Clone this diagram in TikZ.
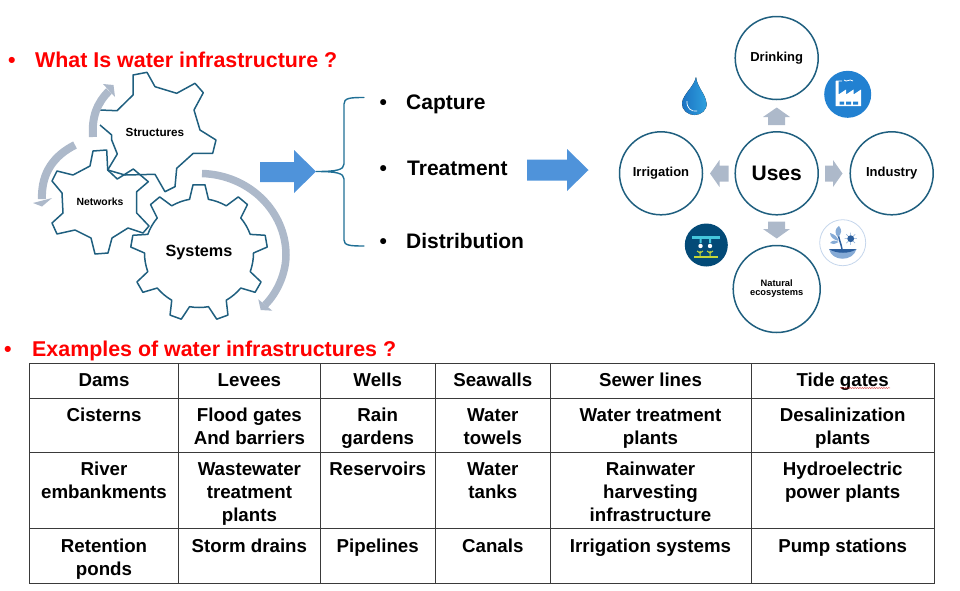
\documentclass[tikz,border=0pt]{standalone}
\usepackage{fontspec}
\setmainfont{Liberation Sans}
\usetikzlibrary{decorations.pathmorphing}
\definecolor{gearblue}{HTML}{1F5F7F}
\definecolor{bracecol}{HTML}{1F6F95}
\definecolor{greyarrow}{HTML}{ADB9CA}
\definecolor{blockblue}{HTML}{4F93DA}
\definecolor{redtitle}{HTML}{FF0000}
\definecolor{tabline}{HTML}{3A3A3A}
\definecolor{factoryblue}{HTML}{2281D1}
\definecolor{dropdark}{HTML}{1B72C2}
\definecolor{droplight}{HTML}{2FA2DF}
\definecolor{sprinkbg}{HTML}{034A77}
\definecolor{sprinkbar}{HTML}{45C6DC}
\definecolor{sprinkleaf}{HTML}{C4D63A}
\definecolor{natdark}{HTML}{2C5F9E}
\definecolor{natmid}{HTML}{86ABD6}
\definecolor{natlight}{HTML}{C5D6EC}
\newcommand{\fs}[2]{\fontsize{#1}{#2}\selectfont\bfseries}
% gear: cx cy n rot tip root halfTip halfBase
\newcommand{\mygear}[8]{%
  \begin{scope}[shift={(#1,#2)}]
  \draw[gearline,fill=white] (#4-#8:#6pt)
  \foreach \i [evaluate=\i as \aa using #4+(\i-1)*360/#3,
               evaluate=\i as \stp using 360/#3] in {1,...,#3}{
    -- (\aa-#8:#6pt) -- (\aa-#7:#5pt) -- (\aa+#7:#5pt) -- (\aa+#8:#6pt)
    -- (\aa+0.25*\stp+0.5*#8:#6pt)
    -- (\aa+0.5*\stp:#6pt)
    -- (\aa+0.75*\stp-0.5*#8:#6pt)
  } -- cycle;
  \end{scope}}
\tikzset{
  gearline/.style={draw=gearblue,line width=1.5pt,line join=round},
  circ/.style={circle,draw=gearblue,line width=1.5pt,fill=white,minimum size=83pt,inner sep=0pt,align=center},
  greytip/.style={fill=greyarrow,draw=none},
  band/.style={draw=greyarrow,line width=#1},
  blocktip/.style={fill=blockblue,draw=none},
  tabrule/.style={draw=tabline,line width=1pt},
  cell/.style={anchor=north,inner sep=0pt,align=center,font=\fs{18.7}{22.7},text=black},
  listitem/.style={anchor=base west,inner sep=0pt,font=\fs{21}{25}},
  titletext/.style={anchor=base west,inner sep=0pt,text=redtitle,font=\fs{21.4}{26}},
}
\newcommand{\cellat}[4]{\node[cell] (#1) at (#2,#3-13.3) {\rule{0pt}{14pt}#4};}
\begin{document}
\begin{tikzpicture}[x=1pt,y=-1pt]
\useasboundingbox (0,0) rectangle (960,590);

% titles
\node[titletext] (b1) at (8,67.5) {•};
\node[titletext] (t1) at (35,67.5) {What Is water infrastructure ?};
\node[titletext] (b2) at (4,356) {•};
\node[titletext] (t2) at (32,356) {Examples of water infrastructures ?};

% gears
\draw[gearline] (100,110) -- (117,110.7) -- (133,95) -- (133,75) -- (147,72.3) -- (155,86.7)
  -- (176.7,93.3) -- (195,83.3) -- (203.3,92.7) -- (194,110) -- (200,130) -- (216,140)
  -- (212.7,153.3) -- (193.3,153.3) -- (176.7,168.3) -- (175,186.7) -- (165,191.7) -- (155,174.3)
  -- (125,175) -- (107.7,170) -- (117.3,154) -- (111.7,140) -- (111.7,135) -- (100,125);
\draw[gearline] (93,151) -- (106.7,150) -- (107.7,170) -- (117.3,179) -- (133.3,169) -- (148.3,181.7)
  -- (136.7,191.7) -- (136.7,213) -- (149,226) -- (143,233) -- (128,228) -- (112,238) -- (108,253)
  -- (95,254) -- (91,238) -- (75,230) -- (57,234) -- (52,223) -- (63,213) -- (62,193) -- (52,181)
  -- (57,171) -- (73,175) -- (90,166) -- cycle;
\mygear{199}{253}{9}{90}{68.5}{54.5}{5}{10}
\node[inner sep=0pt,font=\fs{11.7}{14}] (structures) at (155,132) {Structures};
\node[inner sep=0pt,font=\fs{10.4}{12}] (networks) at (100,202) {Networks};
\node[inner sep=0pt,font=\fs{16.2}{19}] (systems) at (199,252.5) {Systems};

% grey curved arrows
\draw[band=8pt] (93,137) .. controls (91.5,117) and (97,103) .. (109,91);
\fill[greytip] (103,84) -- (113.5,85) -- (115,97) -- cycle;
\draw[band=8pt] (75,145) .. controls (55,155) and (41,172) .. (42,199);
\fill[greytip] (33,203) -- (52,198) -- (42,206.5) -- cycle;
\draw[band=7.5pt] (202,173.5) .. controls (250,175) and (286,212) .. (286,255)
   .. controls (286,272) and (278,292) .. (265,305);
\fill[greytip] (258.3,299.3) -- (272.3,310.7) -- (260.7,310) -- cycle;

% block arrows
\fill[blocktip] (260,162) -- (294,162) -- (294,150) -- (316,171.5) -- (294,193) -- (294,182) -- (260,182) -- cycle;
\fill[blocktip] (527,159.5) -- (567,159.5) -- (567,149) -- (588.5,170) -- (567,191) -- (567,180.5) -- (527,180.5) -- cycle;

% brace
\draw[bracecol,line width=1.4pt,line cap=round]
  (364,97.5) .. controls (350,97.5) and (344,98) .. (344,104)
  -- (344,164) .. controls (344,170) and (336,171.5) .. (316,171.5)
  .. controls (336,171.5) and (344,173) .. (344,179)
  -- (344,240) .. controls (344,245.5) and (350,246) .. (364,246);

% list
\node[listitem] (b3) at (379.5,109) {•};
\node[listitem] (capture) at (406,109) {Capture};
\node[listitem] (b4) at (379.5,175) {•};
\node[listitem] (treatment) at (407,175) {Treatment};
\node[listitem] (b5) at (379.5,248.5) {•};
\node[listitem] (distribution) at (406,248.5) {Distribution};

% circles
\node[circ,font=\fs{13}{15}] (drinking) at (776.7,58) {\raisebox{-1pt}{Drinking}};
\node[circ,font=\fs{21}{25}] (uses) at (776.7,173.3) {Uses};
\node[circ,font=\fs{13}{15}] (irrigation) at (661,173.3) {\raisebox{-1pt}{Irrigation}};
\node[circ,font=\fs{13}{15}] (industry) at (891.7,173.3) {\raisebox{-1pt}{Industry}};
\node[circ,minimum size=87pt,font=\fs{9.3}{9}] (natural) at (776.7,289) {Natural\\ecosystems};

% grey block arrows around Uses
\fill[greytip] (776.7,107.5) -- (790,117) -- (785.2,117) -- (785.2,125) -- (768.2,125) -- (768.2,117) -- (763,117) -- cycle;
\fill[greytip] (776.7,238.5) -- (790,229) -- (785.2,229) -- (785.2,221.5) -- (768.2,221.5) -- (768.2,229) -- (763,229) -- cycle;
\fill[greytip] (842.5,173.5) -- (833,160) -- (833,165.7) -- (825,165.7) -- (825,181.5) -- (833,181.5) -- (833,187) -- cycle;
\fill[greytip] (710,173.5) -- (719.5,160) -- (719.5,165.7) -- (728.5,165.7) -- (728.5,181.5) -- (719.5,181.5) -- (719.5,187) -- cycle;

% drop icon
\fill[left color=dropdark,right color=droplight] (696,77)
  .. controls (694,87) and (683,94) .. (682,103)
  .. controls (681.5,110) and (688,115) .. (694.5,115)
  .. controls (701,115) and (707.5,110) .. (706.5,103)
  .. controls (705.5,94) and (697,87) .. (696,77) -- cycle;
\draw[white,line width=.7pt] (687,101) .. controls (686.5,108) and (691,112) .. (697,111);

% factory icon
\fill[factoryblue] (847.7,94.3) circle[radius=23.5];
\fill[white] (835.5,106) -- (835.5,81) -- (838.5,81) -- (838.5,94.5) -- (846,89.5) -- (846,94.5) -- (853.5,89.5) -- (853.5,94.5) -- (861,89.5) -- (861,106) -- cycle;
\fill[factoryblue] (839.5,101.5) rectangle (844,104.5) (846,101.5) rectangle (851,104.5) (853,101.5) rectangle (858,104.5);
\draw[white,line width=.8pt] (836,81) -- (842,81) (844,80) .. controls (847,83) and (849,78) .. (853,81);

% irrigation icon
\fill[sprinkbg] (706.3,245) circle[radius=21.5];
\fill[sprinkbar] (692,236) rectangle (720,239);
\fill[sprinkbar] (699.5,239) rectangle (701.5,243) (709,239) rectangle (711,243);
\fill[white] (700.5,246) circle[radius=2.2] (710,246) circle[radius=2.2];
\fill[sprinkleaf] (694,256) rectangle (718,257.5);
\draw[sprinkleaf,line width=1pt] (700,256) -- (700,251) (697,251) -- (700,253) -- (703,251) (710,256) -- (710,251) (707,251) -- (710,253) -- (713,251);

% nature icon
\draw[draw=natlight,fill=white,line width=.8pt] (842.7,242.7) circle[radius=23];
\fill[natmid] (829,249) .. controls (832,262) and (853,262) .. (856.5,249) -- cycle;
\fill[natdark] (829,249) -- (856.5,249) .. controls (850,254) and (836,254) .. (829,249) -- cycle;
\draw[natdark,line width=1.5pt] (842,249) .. controls (841,243) and (838,238) .. (838,231);
\fill[natmid] (839,226) .. controls (835,228) and (834,234) .. (838,237) .. controls (842,233) and (842,230) .. (839,226) -- cycle;
\fill[natmid] (838.5,241) .. controls (834,240) and (830,237) .. (830,233) .. controls (834,234) and (838,237) .. (838.5,241) -- cycle;
\fill[natmid] (838.5,242) .. controls (835,244) and (832,245) .. (830,243) .. controls (832,240) and (836,240) .. (838.5,242) -- cycle;
\draw[natmid,line width=.5pt] (844.5,238.7) -- (856.9,238.7) (850.7,232.5) -- (850.7,244.9) (846.3,234.3) -- (855.1,243.1) (846.3,243.1) -- (855.1,234.3);
\fill[natdark] (850.7,238.7) circle[radius=3.4];

% table rules
\draw[tabrule] (29.3,363.3) rectangle (934.3,583.3);
\draw[tabrule] (29.3,398) -- (934.3,398) (29.3,452) -- (934.3,452) (29.3,528.7) -- (934.3,528.7);
\draw[tabrule] (178.7,363.3) -- (178.7,583.3) (320.3,363.3) -- (320.3,583.3) (435.3,363.3) -- (435.3,583.3) (550.3,363.3) -- (550.3,583.3) (751,363.3) -- (751,583.3);

% table text
\cellat{c11}{104}{386}{Dams}
\cellat{c12}{249.4}{386}{Levees}
\cellat{c13}{377.7}{386}{Wells}
\cellat{c14}{492.8}{386}{Seawalls}
\cellat{c15}{650.5}{386}{Sewer lines}
\cellat{c16}{842.7}{386}{Tide gates}
\cellat{c21}{104}{421}{Cisterns}
\cellat{c22}{249.4}{421}{Flood gates\\And barriers}
\cellat{c23}{377.7}{421}{Rain\\gardens}
\cellat{c24}{492.8}{421}{Water\\towels}
\cellat{c25}{650.5}{421}{Water treatment\\plants}
\cellat{c26}{842.7}{421}{Desalinization\\plants}
\cellat{c31}{104}{475}{River\\embankments}
\cellat{c32}{249.4}{475}{Wastewater\\treatment\\plants}
\cellat{c33}{377.7}{475}{Reservoirs}
\cellat{c34}{492.8}{475}{Water\\tanks}
\cellat{c35}{650.5}{475}{Rainwater\\harvesting\\infrastructure}
\cellat{c36}{842.7}{475}{Hydroelectric\\power plants}
\cellat{c41}{104}{551.7}{Retention\\ponds}
\cellat{c42}{249.4}{551.7}{Storm drains}
\cellat{c43}{377.7}{551.7}{Pipelines}
\cellat{c44}{492.8}{551.7}{Canals}
\cellat{c45}{650.5}{551.7}{Irrigation systems}
\cellat{c46}{842.7}{551.7}{Pump stations}

% spell-check squiggle
\draw[red!80!black,line width=.35pt,decorate,decoration={snake,amplitude=.5pt,segment length=2.4pt}] (840,388) -- (890,388);
\end{tikzpicture}
\end{document}
